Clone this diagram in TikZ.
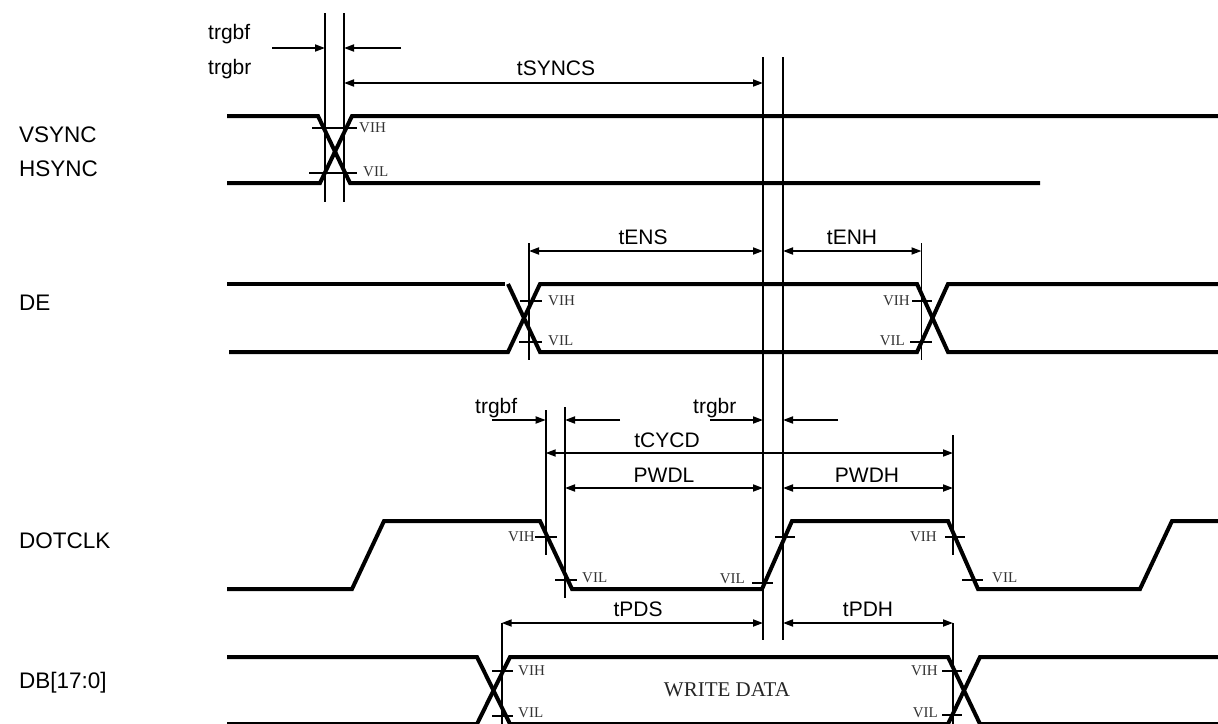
\documentclass[tikz,border=0pt]{standalone}
\usepackage{fontspec}
\setmainfont{Liberation Sans}
\newfontfamily\vfont{Liberation Serif}
\usetikzlibrary{arrows.meta}
\tikzset{
  wave/.style={line width=4pt, line join=miter},
  thinl/.style={line width=1.8pt},
  tick/.style={line width=1.6pt},
  tipr/.style={thinl, -{Triangle[length=10pt,width=7pt]}},
  dim/.style={thinl, {Triangle[length=10pt,width=7pt]}-{Triangle[length=10pt,width=7pt]}},
  sig/.style={font=\fontsize{22.5}{24}\selectfont, anchor=base west, inner sep=0pt},
  lab/.style={font=\fontsize{21}{23}\selectfont, anchor=base, inner sep=0pt},
  labw/.style={font=\fontsize{21}{23}\selectfont, anchor=base west, inner sep=0pt},
  lv/.style={font=\vfont\fontsize{15}{16}\selectfont, inner sep=0pt, text=black!80},
}
\begin{document}
\begin{tikzpicture}[x=1pt,y=-1pt]
\useasboundingbox (0,0) rectangle (1218,723);

% ---------- signal names ----------
\node[sig] (nV) at (19,142) {VSYNC};
\node[sig] (nH) at (19,176) {HSYNC};
\node[sig] (nDE) at (19,310) {DE};
\node[sig] (nCK) at (19,548) {DOTCLK};
\node[sig] (nDB) at (19,688) {DB[17:0]};

% ---------- vertical reference lines ----------
\coordinate (a1) at (325,13);   \coordinate (a2) at (325,202);
\coordinate (b1) at (344,13);   \coordinate (b2) at (344,202);
\coordinate (c1) at (763,57);   \coordinate (c2) at (763,640);
\coordinate (d1) at (783,57);   \coordinate (d2) at (783,640);
\coordinate (e1) at (529,243);  \coordinate (e2) at (529,360);
\coordinate (f1) at (921.5,243);\coordinate (f2) at (921.5,360);
\coordinate (g1) at (545.7,410);\coordinate (g2) at (545.7,555);
\coordinate (h1) at (565,407);  \coordinate (h2) at (565,598);
\coordinate (i1) at (953,435);  \coordinate (i2) at (953,555);
\coordinate (j1) at (501.7,623);\coordinate (j2) at (501.7,730);
\coordinate (k1) at (953,623);  \coordinate (k2) at (953,730);
\foreach \v in {a,b,c,d,e,f,g,h,i,j,k} \draw[thinl] (\v1) -- (\v2);

% ---------- dimension arrows ----------
% top trgbf / trgbr
\coordinate (t1s) at (272,48); \coordinate (t1e) at (325,48);
\coordinate (t2s) at (401,48); \coordinate (t2e) at (344,48);
\draw[tipr] (t1s) -- (t1e);
\draw[tipr] (t2s) -- (t2e);
\node[labw] (ltf) at (208,39) {trgbf};
\node[labw] (ltr) at (208,74) {trgbr};
% tSYNCS
\coordinate (sL) at (344,83); \coordinate (sR) at (763,83);
\draw[dim] (sL) -- (sR);
\node[lab] (lS) at (556,75) {tSYNCS};
% tENS / tENH
\coordinate (enL) at (529,251); \coordinate (enR) at (763,251);
\draw[dim] (enL) -- (enR);
\node[lab] (lENS) at (643,244) {tENS};
\coordinate (ehL) at (783,251); \coordinate (ehR) at (921.5,251);
\draw[dim] (ehL) -- (ehR);
\node[lab] (lENH) at (852,244) {tENH};
% lower trgbf / trgbr
\coordinate (u1s) at (492,420); \coordinate (u1e) at (545.7,420);
\coordinate (u2s) at (620,420); \coordinate (u2e) at (565,420);
\draw[tipr] (u1s) -- (u1e);
\draw[tipr] (u2s) -- (u2e);
\node[labw] (lbf) at (475,413) {trgbf};
\coordinate (w1s) at (710,420); \coordinate (w1e) at (763,420);
\coordinate (w2s) at (838,420); \coordinate (w2e) at (783,420);
\draw[tipr] (w1s) -- (w1e);
\draw[tipr] (w2s) -- (w2e);
\node[labw] (lbr) at (693,413) {trgbr};
% tCYCD
\coordinate (cyL) at (545.7,453); \coordinate (cyR) at (953,453);
\draw[dim] (cyL) -- (cyR);
\node[lab] (lCY) at (667,447) {tCYCD};
% PWDL / PWDH
\coordinate (plL) at (565,488); \coordinate (plR) at (763,488);
\draw[dim] (plL) -- (plR);
\node[lab] (lPL) at (664,482) {PWDL};
\coordinate (phL) at (783,488); \coordinate (phR) at (953,488);
\draw[dim] (phL) -- (phR);
\node[lab] (lPH) at (867,482) {PWDH};
% tPDS / tPDH
\coordinate (psL) at (501.7,623); \coordinate (psR) at (763,623);
\draw[dim] (psL) -- (psR);
\node[lab] (lPS) at (638,616) {tPDS};
\coordinate (pdL) at (783,623); \coordinate (pdR) at (953,623);
\draw[dim] (pdL) -- (pdR);
\node[lab] (lPD) at (868,616) {tPDH};

% ---------- VSYNC / HSYNC ----------
\draw[wave] (227,116) -- (318,116) -- (350,183) -- (1040,183);
\draw[wave] (227,183) -- (320,183) -- (352,116) -- (1218,116);
\draw[tick] (312,127.7) -- (357,127.7);
\draw[tick] (309,173) -- (357,173);
\node[lv, anchor=west] (v1) at (359,128) {VIH};
\node[lv, anchor=west] (v2) at (363,172) {VIL};

% ---------- DE ----------
\draw[wave] (227,284) -- (505,284);
\draw[wave] (508,284) -- (540,352) -- (917,352) -- (948,284) -- (1218,284);
\draw[wave] (229,352) -- (508,352) -- (540,284) -- (917,284) -- (948,352) -- (1218,352);
\draw[tick] (520,301) -- (542,301);
\draw[tick] (519,342) -- (542,342);
\node[lv, anchor=west] (d1l) at (548,301) {VIH};
\node[lv, anchor=west] (d2l) at (548,341) {VIL};
\draw[tick] (912,301) -- (932,301);
\draw[tick] (910,342) -- (932,342);
\node[lv, anchor=east] (d3l) at (910,301) {VIH};
\node[lv, anchor=east] (d4l) at (905,341) {VIL};

% ---------- DOTCLK ----------
\draw[wave] (227,589) -- (352,589) -- (384,521) -- (540,521) -- (572,589)
  -- (762,589) -- (792,521) -- (948,521) -- (978,589) -- (1140,589)
  -- (1172,521) -- (1218,521);
\draw[tick] (535,537) -- (557,537);
\node[lv, anchor=east] (k1l) at (535,537) {VIH};
\draw[tick] (555,580) -- (577,580);
\node[lv, anchor=west] (k2l) at (582,578) {VIL};
\draw[tick] (752,583) -- (773,583);
\node[lv, anchor=east] (k3l) at (745,579) {VIL};
\draw[tick] (775,537) -- (795,537);
\draw[tick] (945,537) -- (965,537);
\node[lv, anchor=east] (k4l) at (937,537) {VIH};
\draw[tick] (962,580) -- (983,580);
\node[lv, anchor=west] (k5l) at (992,578) {VIL};

% ---------- DB[17:0] ----------
\draw[wave] (227,657) -- (477,657) -- (510,724) -- (948,724) -- (980,657) -- (1218,657);
\draw[wave] (227,724) -- (477,724) -- (510,657) -- (948,657) -- (980,724) -- (1218,724);
\draw[tick] (492,671) -- (513,671);
\draw[tick] (492,716) -- (513,716);
\node[lv, anchor=west] (b1l) at (518,671) {VIH};
\node[lv, anchor=west] (b2l) at (518,713) {VIL};
\draw[tick] (942,671) -- (962,671);
\draw[tick] (942,715) -- (962,715);
\node[lv, anchor=east] (b3l) at (938,671) {VIH};
\node[lv, anchor=east] (b4l) at (938,713) {VIL};
\node[font=\vfont\fontsize{21}{23}\selectfont, inner sep=0pt, text=black!85] (wd) at (727,690) {WRITE DATA};

\end{tikzpicture}
\end{document}
